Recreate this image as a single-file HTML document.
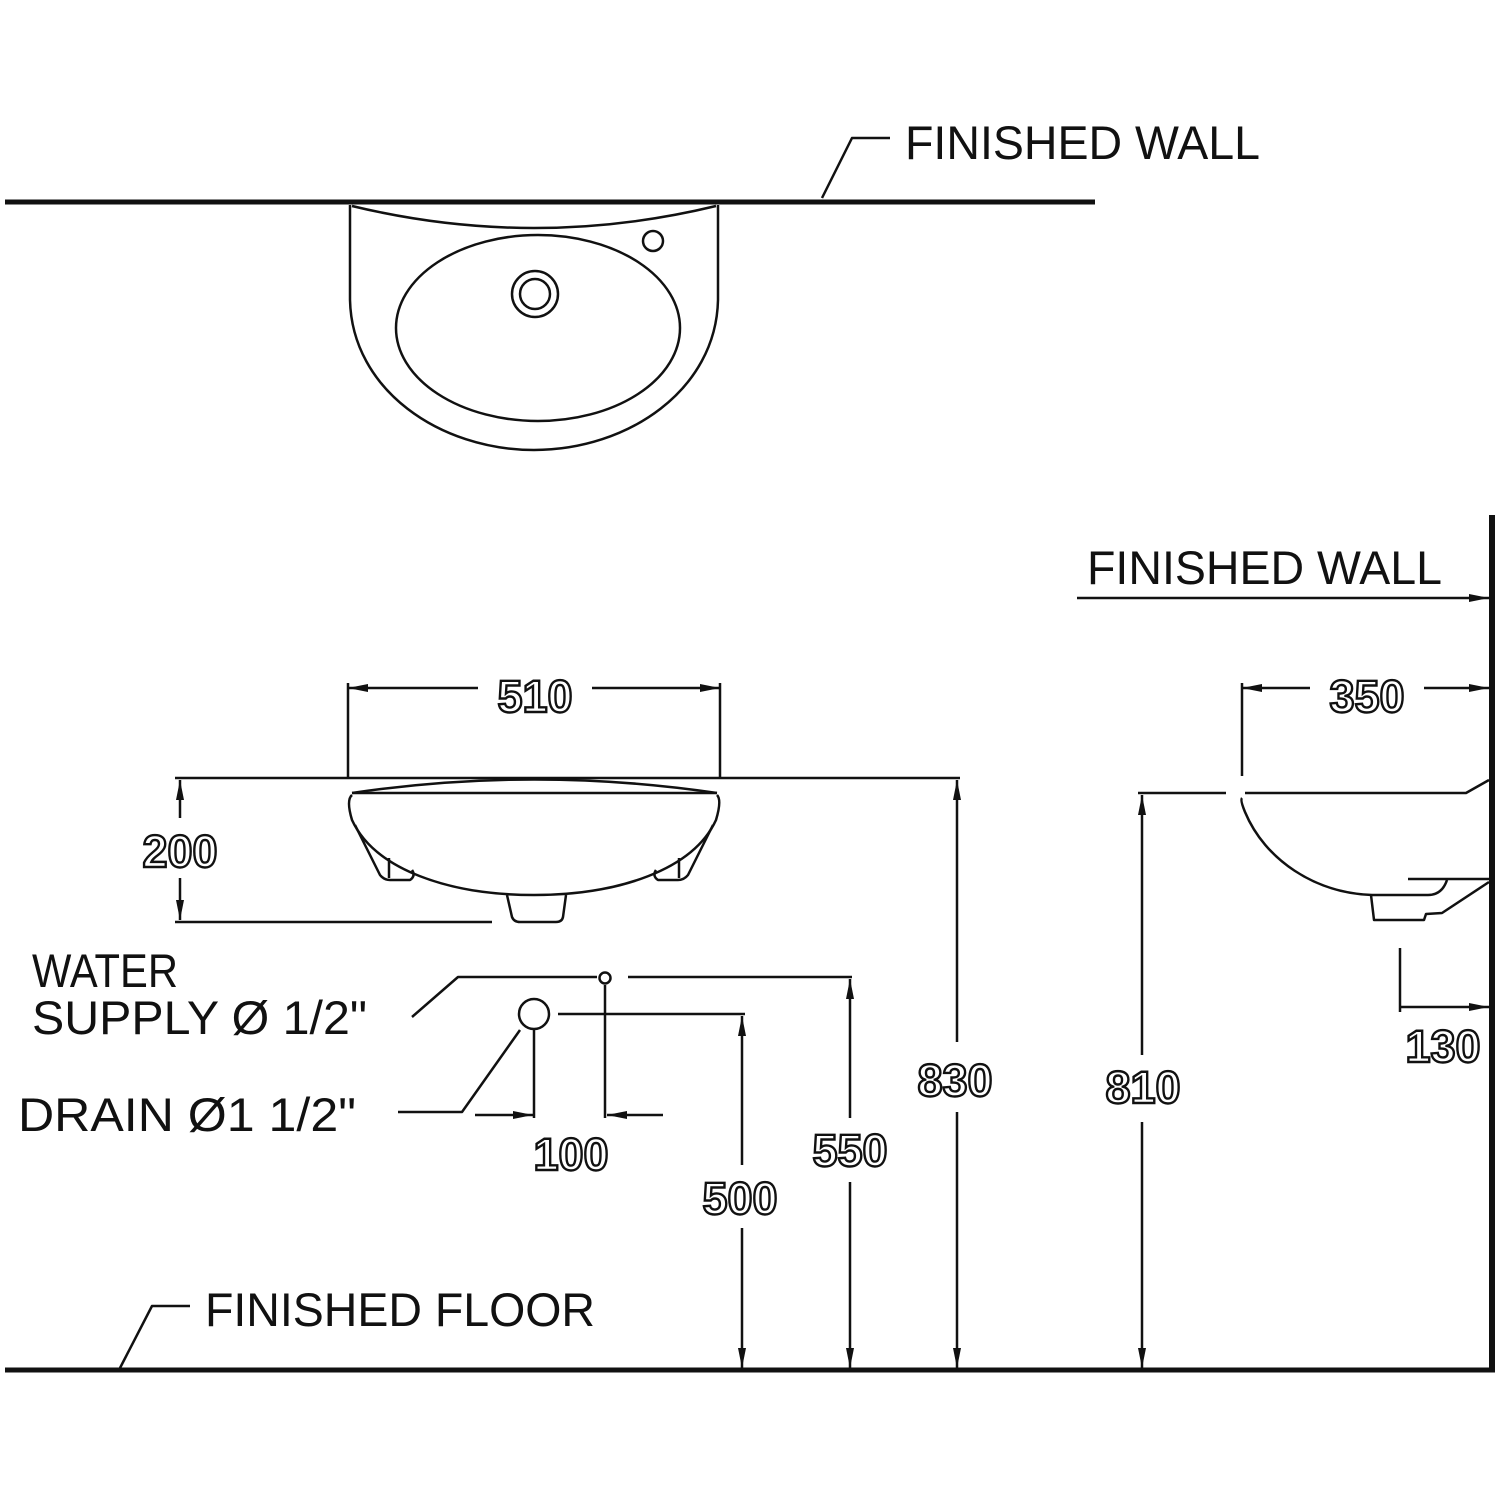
<!DOCTYPE html>
<html><head><meta charset="utf-8"><style>
html,body{margin:0;padding:0;background:#fff;}
svg{display:block;}
text{font-family:"Liberation Sans",sans-serif;fill:#111;}
.lbl{font-size:47px;}
.num{font-size:45px;font-weight:bold;fill:#fff;stroke:#111;stroke-width:2.4px;text-anchor:middle;}
</style></head><body>
<svg width="1500" height="1500" viewBox="0 0 1500 1500" xmlns="http://www.w3.org/2000/svg">
<defs>
<marker id="a" viewBox="0 0 20 10" refX="20" refY="5" markerWidth="20" markerHeight="10" markerUnits="userSpaceOnUse" orient="auto-start-reverse">
<path d="M0,1 L20,5 L0,9 Z" fill="#111"/></marker>
</defs>
<g stroke="#111" fill="none" stroke-width="2.5" stroke-linejoin="round">
<line x1="5" y1="202" x2="1095" y2="202" stroke-width="5"/>
<polyline points="822,198 852,138 890,138"/>
<path d="M350,205 L350,300 C352,390 440,450 534,450 C628,450 716,390 718,300 L718,205"/>
<path d="M352,206 Q534,250 716,206"/>
<ellipse cx="538" cy="328" rx="142" ry="93"/>
<circle cx="535" cy="294" r="23"/>
<circle cx="535" cy="294" r="15"/>
<circle cx="653" cy="241" r="10"/>

<line x1="175" y1="778" x2="960" y2="778"/>
<line x1="348" y1="683" x2="348" y2="778"/>
<line x1="720" y1="683" x2="720" y2="778"/>
<line x1="348" y1="688" x2="478" y2="688" marker-start="url(#a)"/>
<line x1="592" y1="688" x2="720" y2="688" marker-end="url(#a)"/>
<path d="M352,793 L717,793"/>
<path d="M352,793 Q534,766 717,793"/>
<path d="M352,795 Q346,800 352,820 C375,870 450,895 534,895 C618,895 693,870 716,820 Q722,800 717,795"/>
<path d="M355,825 L380,875 Q384,880 390,880 L410,880 Q416,876 412,870"/>
<line x1="389" y1="858" x2="389" y2="878"/>
<path d="M713,825 L688,875 Q684,880 678,880 L658,880 Q652,876 656,870"/>
<line x1="679" y1="858" x2="679" y2="878"/>
<path d="M507,895 L512,917 Q514,922 520,922 L556,922 Q562,922 563,917 L566,895"/>
<line x1="175" y1="922" x2="492" y2="922"/>
<line x1="180" y1="780" x2="180" y2="818" marker-start="url(#a)"/>
<line x1="180" y1="878" x2="180" y2="920" marker-end="url(#a)"/>
<line x1="957" y1="780" x2="957" y2="1042" marker-start="url(#a)"/>
<line x1="957" y1="1112" x2="957" y2="1368" marker-end="url(#a)"/>

<circle cx="605" cy="978" r="5.5"/>
<circle cx="534" cy="1014" r="15"/>
<polyline points="412,1017 458,977 597,977"/>
<polyline points="398,1112 462,1112 520,1030"/>
<line x1="628" y1="977" x2="852" y2="977"/>
<line x1="558" y1="1014" x2="745" y2="1014"/>
<line x1="534" y1="1030" x2="534" y2="1118"/>
<line x1="605" y1="985" x2="605" y2="1118"/>
<line x1="475" y1="1115" x2="533" y2="1115" marker-end="url(#a)"/>
<line x1="663" y1="1115" x2="607" y2="1115" marker-end="url(#a)"/>
<line x1="850" y1="979" x2="850" y2="1118" marker-start="url(#a)"/>
<line x1="850" y1="1182" x2="850" y2="1368" marker-end="url(#a)"/>
<line x1="742" y1="1016" x2="742" y2="1165" marker-start="url(#a)"/>
<line x1="742" y1="1228" x2="742" y2="1368" marker-end="url(#a)"/>

<line x1="5" y1="1370" x2="1495" y2="1370" stroke-width="5"/>
<polyline points="120,1368 152,1306 190,1306"/>

<line x1="1492" y1="515" x2="1492" y2="1372" stroke-width="6"/>
<line x1="1077" y1="598" x2="1489" y2="598" marker-end="url(#a)"/>
<line x1="1242" y1="683" x2="1242" y2="776"/>
<line x1="1242" y1="688" x2="1310" y2="688" marker-start="url(#a)"/>
<line x1="1424" y1="688" x2="1489" y2="688" marker-end="url(#a)"/>
<line x1="1138" y1="793" x2="1226" y2="793"/>
<polyline points="1245,793 1466,793 1489,780"/>
<path d="M1242,798 Q1240,800 1245,812 C1265,860 1315,893 1372,895 L1428,895 Q1442,895 1447,880"/>
<line x1="1408" y1="879" x2="1489" y2="879"/>
<path d="M1371,895 L1374,920 L1424,920 L1426,914 L1442,913 L1489,882"/>
<line x1="1142" y1="795" x2="1142" y2="1055" marker-start="url(#a)"/>
<line x1="1142" y1="1122" x2="1142" y2="1368" marker-end="url(#a)"/>
<line x1="1400" y1="948" x2="1400" y2="1012"/>
<line x1="1400" y1="1007" x2="1489" y2="1007" marker-end="url(#a)"/>
</g>

<text class="lbl" x="905" y="159" textLength="355" lengthAdjust="spacingAndGlyphs">FINISHED  WALL</text>
<text class="lbl" x="1087" y="584" textLength="355" lengthAdjust="spacingAndGlyphs">FINISHED  WALL</text>
<text class="lbl" x="205" y="1326" textLength="390" lengthAdjust="spacingAndGlyphs">FINISHED  FLOOR</text>
<text class="lbl" x="32" y="987" textLength="146" lengthAdjust="spacingAndGlyphs">WATER</text>
<text class="lbl" x="32" y="1034" textLength="335" lengthAdjust="spacingAndGlyphs">SUPPLY Ø 1/2"</text>
<text class="lbl" x="18" y="1131" textLength="338" lengthAdjust="spacingAndGlyphs">DRAIN Ø1  1/2"</text>

<text class="num" x="535" y="712">510</text>
<text class="num" x="180" y="867">200</text>
<text class="num" x="955" y="1096">830</text>
<text class="num" x="571" y="1170">100</text>
<text class="num" x="850" y="1166">550</text>
<text class="num" x="740" y="1214">500</text>
<text class="num" x="1367" y="712">350</text>
<text class="num" x="1143" y="1103">810</text>
<text class="num" x="1443" y="1062">130</text>
</svg>
</body></html>
